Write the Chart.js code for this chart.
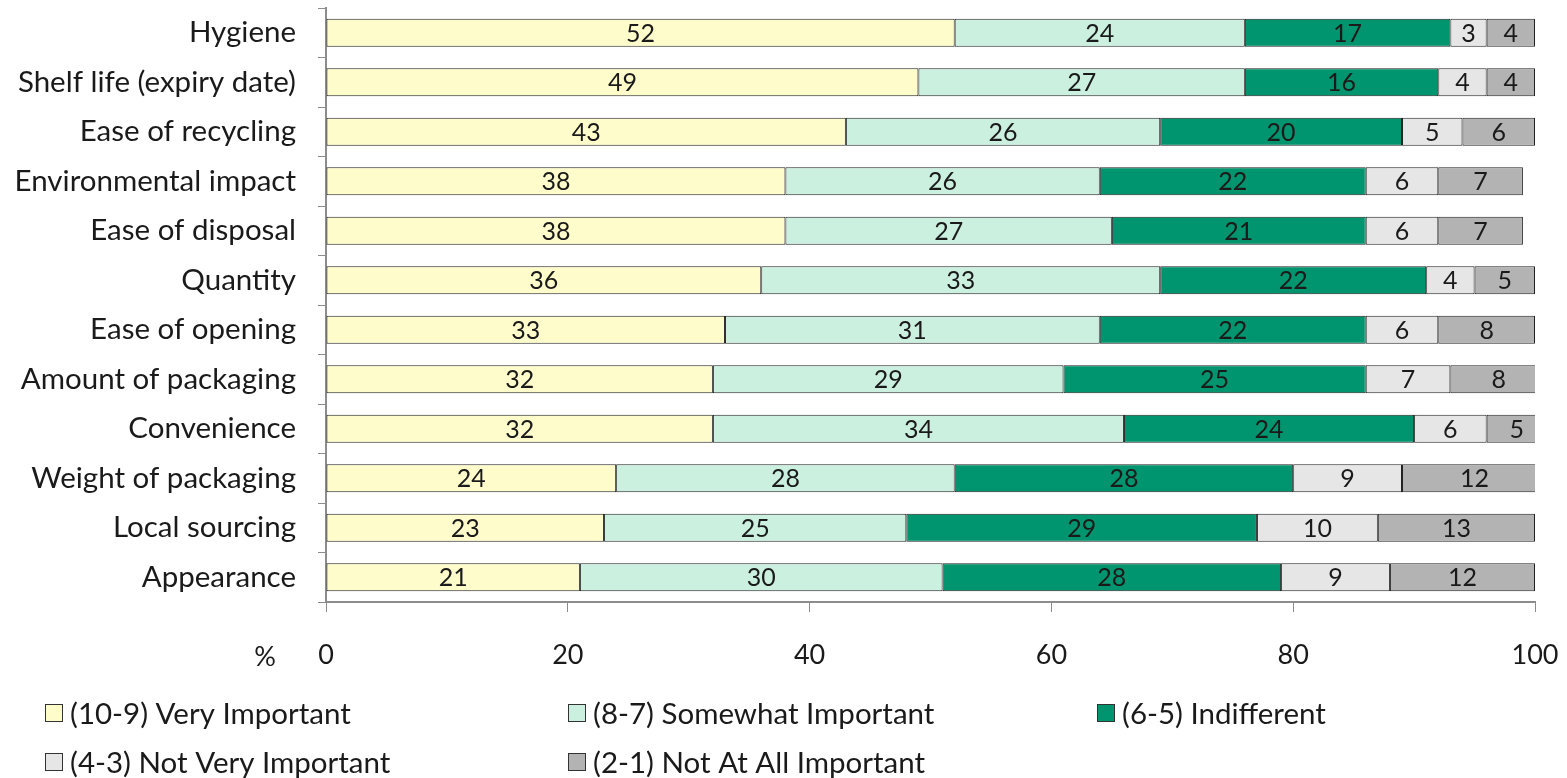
<!DOCTYPE html>
<html>
<head>
<meta charset="utf-8">
<script src="https://cdn.jsdelivr.net/npm/chart.js@4"></script>
<style>
  html, body { margin: 0; padding: 0; background: #fff; }
  #wrap { width: 1567px; height: 778px; }
</style>
</head>
<body>
<div id="wrap"><canvas id="barChart" width="1567" height="778"></canvas></div>
<script>
// categories, top to bottom
const categories = [
  "Hygiene",
  "Shelf life (expiry date)",
  "Ease of recycling",
  "Environmental impact",
  "Ease of disposal",
  "Quantity",
  "Ease of opening",
  "Amount of packaging",
  "Convenience",
  "Weight of packaging",
  "Local sourcing",
  "Appearance",
];

// series values (%)
const veryImportant = [52, 49, 43, 38, 38, 36, 33, 32, 32, 24, 23, 21];
const somewhatImportant = [24, 27, 26, 26, 27, 33, 31, 29, 34, 28, 25, 30];
const indifferent = [17, 16, 20, 22, 21, 22, 22, 25, 24, 28, 29, 28];
const notVeryImportant = [3, 4, 5, 6, 6, 4, 6, 7, 6, 9, 10, 9];
const notAtAllImportant = [4, 4, 6, 7, 7, 5, 8, 8, 5, 12, 13, 12];

const seriesNames = [
  "(10-9) Very Important",
  "(8-7) Somewhat Important",
  "(6-5) Indifferent",
  "(4-3) Not Very Important",
  "(2-1) Not At All Important",
];
const xTicks = [0, 20, 40, 60, 80, 100];

//styles
const FONT = "Lato, 'Open Sans', sans-serif";
const textColor = "#1a1a1a";
const axisColor = "#8c8c8c";
const COLORS = ["#fffccc", "#ccf0e0", "#00956e", "#e6e6e6", "#b3b3b3"];

const seriesValues = [veryImportant, somewhatImportant, indifferent, notVeryImportant, notAtAllImportant];

// value labels in the middle of each segment
const barLabels = {
  id: "barLabels",
  afterDatasetsDraw(chart) {
    const { ctx } = chart;
    ctx.save();
    ctx.font = `25px ${FONT}`;
    ctx.fillStyle = textColor;
    ctx.textAlign = "center";
    ctx.textBaseline = "middle";
    chart.data.datasets.forEach((ds, i) => {
      chart.getDatasetMeta(i).data.forEach((bar, j) => {
        const cx = (bar.x + bar.base) / 2;
        ctx.fillText(ds.data[j], cx, bar.y + 1);
      });
    });
    ctx.restore();
  },
};

// "%" unit and legend laid out in columns like the original
const extras = {
  id: "extras",
  afterDraw(chart) {
    const { ctx } = chart;
    ctx.save();
    ctx.font = `27px ${FONT}`;
    ctx.fillStyle = textColor;
    ctx.textBaseline = "middle";
    ctx.textAlign = "center";
    ctx.fillText("%", 265, 657);

    const cols = [45, 568, 1097];
    const rows = [713, 762];
    ctx.font = `29.5px ${FONT}`;
    ctx.textAlign = "left";
    seriesNames.forEach((name, i) => {
      const x = cols[i % 3];
      const y = rows[Math.floor(i / 3)];
      ctx.fillStyle = COLORS[i];
      ctx.fillRect(x, y - 9, 17, 17);
      ctx.strokeStyle = "#333";
      ctx.lineWidth = 1;
      ctx.strokeRect(x + 0.5, y - 8.5, 17, 17);
      ctx.fillStyle = textColor;
      ctx.fillText(name, x + 25, y + 1);
    });
    ctx.restore();
  },
};

const ctx = document.getElementById("barChart").getContext("2d");

new Chart(ctx, {
  type: "bar",
  data: {
    labels: categories,
    datasets: seriesValues.map((vals, i) => ({
      label: seriesNames[i],
      data: vals,
      backgroundColor: COLORS[i],
      borderColor: "#222",
      borderWidth: 1,
      borderSkipped: false,
      barPercentage: 0.57,
      categoryPercentage: 1,
    })),
  },
  options: {
    indexAxis: "y",
    responsive: false,
    animation: false,
    layout: { padding: { top: 8, right: 32, bottom: 96, left: 0 } },
    plugins: {
      legend: { display: false },
      tooltip: { enabled: false },
    },
    scales: {
      x: {
        stacked: true,
        min: 0,
        max: 100,
        afterBuildTicks(scale) {
          scale.ticks = xTicks.map((v) => ({ value: v }));
        },
        afterFit(scale) {
          scale.height = 80;
          scale.paddingLeft = 0;
          scale.paddingRight = 0;
        },
        border: { color: axisColor, width: 2 },
        grid: {
          drawOnChartArea: false,
          drawTicks: true,
          tickLength: 10,
          color: axisColor,
          lineWidth: 1,
        },
        ticks: {
          color: textColor,
          padding: 27,
          font: { family: FONT, size: 27 },
        },
      },
      y: {
        stacked: true,
        afterFit(scale) {
          scale.width = 326;
          scale.paddingTop = 0;
          scale.paddingBottom = 0;
        },
        border: { color: axisColor, width: 2 },
        grid: {
          offset: true,
          drawOnChartArea: false,
          drawTicks: true,
          tickLength: 8,
          color: axisColor,
        },
        ticks: {
          color: textColor,
          padding: 22,
          font: { family: FONT, size: 29.5 },
        },
      },
    },
  },
  plugins: [barLabels, extras],
});
</script>
</body>
</html>
